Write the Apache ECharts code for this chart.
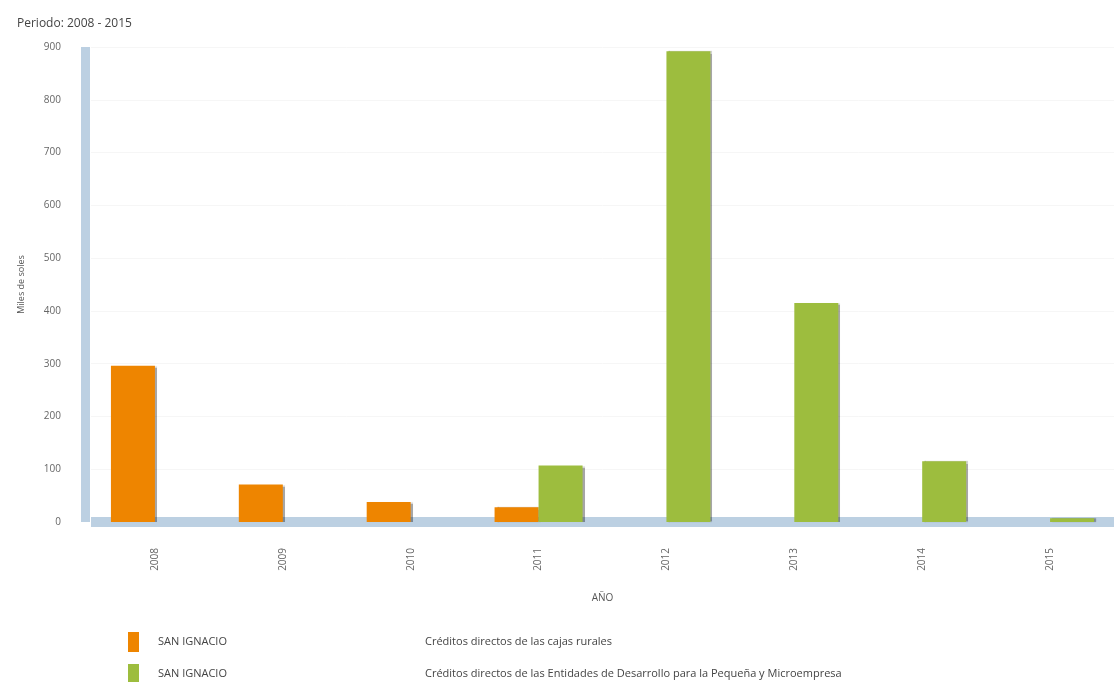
<!DOCTYPE html>
<html>
<head>
<meta charset="utf-8">
<script src="https://cdn.jsdelivr.net/npm/echarts@6/dist/echarts.min.js"></script>
<style>html,body{margin:0;padding:0;background:#fff;}#c{width:1114px;height:682px;}</style>
</head>
<body>
<div id="c"></div>
<script>
var categories = ['2008', '2009', '2010', '2011', '2012', '2013', '2014', '2015'];
var cajasRurales = [296, 71, 38, 28, 0, 0, 0, 0];
var edpyme = [0, 0, 0, 107, 892, 415, 115, 7];
var seriesNames = ['Créditos directos de las cajas rurales', 'Créditos directos de las Entidades de Desarrollo para la Pequeña y Microempresa'];
var place = 'SAN IGNACIO';
var yTicks = { min: 0, max: 900, interval: 100 };

var chart = echarts.init(document.getElementById('c'));
var font = 'Open Sans';
function legendAt(name, top) {
  return {
    orient: 'horizontal', left: 123, top: top,
    itemWidth: 11, itemHeight: 20,
    icon: 'rect',
    formatter: function (n) { return '{p|}{a|' + place + '}{b|' + n + '}'; },
    textStyle: {
      fontFamily: font, fontSize: 11, color: '#444',
      rich: {
        p: { width: 14 },
        a: { width: 267, fontFamily: font, fontSize: 11, color: '#444' },
        b: { fontFamily: font, fontSize: 11, color: '#444' }
      }
    },
    data: [name]
  };
}
chart.setOption({
  animation: false,
  title: {
    text: 'Periodo: 2008 - 2015',
    left: 12, top: 13,
    textStyle: { fontFamily: font, fontSize: 12, fontWeight: 'normal', color: '#444' }
  },
  grid: { left: 91, top: 47, width: 1032, height: 475, containLabel: false },
  legend: [legendAt(seriesNames[0], 627), legendAt(seriesNames[1], 659)],
  xAxis: {
    type: 'category', data: categories,
    offset: 5,
    name: 'AÑO', nameLocation: 'middle', nameGap: 66,
    nameTextStyle: { fontFamily: font, fontSize: 10, color: '#555' },
    axisLine: { lineStyle: { color: '#bcd0e2', width: 10, cap: 'butt' } },
    axisTick: { show: false },
    axisLabel: { rotate: 90, margin: 21, fontFamily: font, fontSize: 10, color: '#666' }
  },
  yAxis: {
    type: 'value', min: yTicks.min, max: yTicks.max, interval: yTicks.interval,
    offset: 6,
    name: 'Miles de soles', nameLocation: 'middle', nameGap: 59, nameRotate: 90,
    nameTextStyle: { fontFamily: font, fontSize: 9, color: '#555' },
    axisLine: { show: true, lineStyle: { color: '#bcd0e2', width: 9, cap: 'butt' } },
    axisTick: { show: false },
    splitLine: { lineStyle: { color: '#f6f6f6' } },
    axisLabel: { margin: 24, fontFamily: font, fontSize: 10, color: '#666' }
  },
  series: [
    {
      name: seriesNames[0], type: 'bar', data: cajasRurales,
      barWidth: 44, barGap: 0,
      itemStyle: { color: '#ee8500', shadowColor: 'rgba(0,0,0,0.35)', shadowOffsetX: 2, shadowBlur: 1 }
    },
    {
      name: seriesNames[1], type: 'bar', data: edpyme,
      barWidth: 44, barGap: 0,
      itemStyle: { color: '#9dbd3e', shadowColor: 'rgba(0,0,0,0.35)', shadowOffsetX: 2, shadowBlur: 1 }
    }
  ]
});
</script>
</body>
</html>
